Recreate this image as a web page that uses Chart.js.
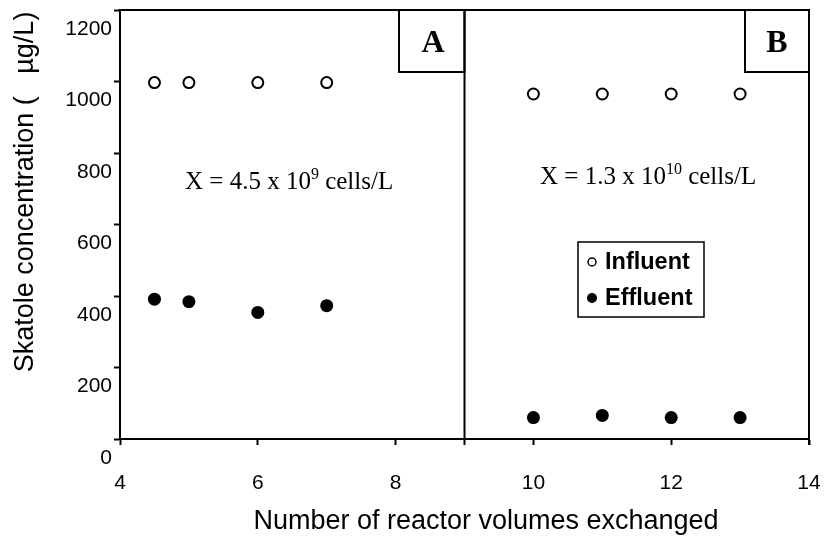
<!DOCTYPE html>
<html>
<head>
<meta charset="utf-8">
<script src="https://cdn.jsdelivr.net/npm/chart.js@4"></script>
<style>
  html, body { margin: 0; padding: 0; background: #fff; }
  #wrap { width: 825px; height: 537px; }
</style>
</head>
<body>
<div id="wrap"><canvas id="chart" width="825" height="537"></canvas></div>
<script>
// reactor volumes exchanged
const xInfluentA = [4.5, 5, 6, 7];
const xInfluentB = [10, 11, 12, 13];
// skatole concentration, ug/L
const influentA = [997, 997, 997, 997];
const effluentA = [391, 384, 354, 373];
const influentB = [965, 965, 965, 965];
const effluentB = [60, 66, 60, 60];
const yTicks = [0, 200, 400, 600, 800, 1000, 1200];
const xTicks = [4, 6, 8, 10, 12, 14];

const toPoints = (xs, ys) => xs.map((x, i) => ({ x: x, y: ys[i] }));

// boxes, labels and the divider at x = 9
const panelPlugin = {
  id: 'panels',
  afterDraw(chart) {
    const ctx = chart.ctx;
    const a = chart.chartArea;
    const xs = chart.scales.x;
    const mid = xs.getPixelForValue(9);
    ctx.save();
    ctx.strokeStyle = '#000';
    ctx.lineWidth = 2;
    // top + right border
    ctx.beginPath();
    ctx.moveTo(a.left, a.top);
    ctx.lineTo(a.right, a.top);
    ctx.lineTo(a.right, a.bottom + 6);
    ctx.stroke();
    // divider
    ctx.beginPath();
    ctx.moveTo(mid, a.top);
    ctx.lineTo(mid, a.bottom + 6);
    ctx.stroke();
    // A / B boxes
    ctx.strokeRect(399, a.top, mid - 399, 62);
    ctx.strokeRect(745, a.top, a.right - 745, 62);
    ctx.fillStyle = '#000';
    ctx.font = 'bold 32px "Liberation Serif"';
    ctx.textAlign = 'center';
    ctx.textBaseline = 'middle';
    ctx.fillText('A', 433, 44);
    ctx.fillText('B', 777, 44);

    // cell density notes
    const note = (x, y, pre, sup, post) => {
      ctx.textAlign = 'left';
      ctx.textBaseline = 'alphabetic';
      ctx.font = '25px "Liberation Serif"';
      ctx.fillText(pre, x, y);
      let w = ctx.measureText(pre).width;
      ctx.font = '16px "Liberation Serif"';
      ctx.fillText(sup, x + w, y - 10);
      w += ctx.measureText(sup).width;
      ctx.font = '25px "Liberation Serif"';
      ctx.fillText(post, x + w, y);
    };
    note(185, 189, 'X = 4.5 x 10', '9', ' cells/L');
    note(540, 184, 'X = 1.3 x 10', '10', ' cells/L');

    // legend
    ctx.lineWidth = 1.5;
    ctx.strokeRect(578, 242, 126, 75);
    ctx.beginPath();
    ctx.arc(592, 262, 4, 0, Math.PI * 2);
    ctx.fillStyle = '#fff';
    ctx.fill();
    ctx.stroke();
    ctx.beginPath();
    ctx.arc(592, 298, 5, 0, Math.PI * 2);
    ctx.fillStyle = '#000';
    ctx.fill();
    ctx.font = 'bold 23.5px "Liberation Sans"';
    ctx.textAlign = 'left';
    ctx.textBaseline = 'middle';
    ctx.fillText('Influent', 605, 263);
    ctx.fillText('Effluent', 605, 299);

    // axis titles
    ctx.font = '27px "Liberation Sans"';
    ctx.textAlign = 'center';
    ctx.fillText('Number of reactor volumes exchanged', 486, 522);
    ctx.save();
    ctx.translate(26, 192);
    ctx.rotate(-Math.PI / 2);
    ctx.fillText('Skatole concentration (   \u00b5g/L)', 0, 0);
    ctx.restore();
    ctx.restore();
  }
};

new Chart(document.getElementById('chart'), {
  type: 'scatter',
  data: {
    datasets: [
      {
        label: 'Influent',
        data: toPoints(xInfluentA, influentA).concat(toPoints(xInfluentB, influentB)),
        pointStyle: 'circle',
        pointRadius: 5.5,
        pointBorderWidth: 2,
        pointBackgroundColor: '#fff',
        pointBorderColor: '#000'
      },
      {
        label: 'Effluent',
        data: toPoints(xInfluentA, effluentA).concat(toPoints(xInfluentB, effluentB)),
        pointStyle: 'circle',
        pointRadius: 6.5,
        pointBorderWidth: 0,
        pointBackgroundColor: '#000',
        pointBorderColor: '#000'
      }
    ]
  },
  options: {
    responsive: false,
    animation: false,
    layout: { padding: { top: 10, right: 16, left: 0, bottom: 0 } },
    plugins: { legend: { display: false }, tooltip: { enabled: false } },
    scales: {
      x: {
        type: 'linear',
        min: 4,
        max: 14,
        afterFit: (s) => { s.height = 98; s.paddingLeft = 0; s.paddingRight = 0; },
        afterBuildTicks: (s) => { s.ticks = xTicks.map(v => ({ value: v })); },
        border: { display: true, color: '#000', width: 2 },
        grid: { drawOnChartArea: false, drawTicks: true, tickLength: 6, tickColor: '#000', tickWidth: 2 },
        ticks: { color: '#000', font: { family: 'Liberation Sans', size: 21 }, padding: 26, maxRotation: 0,
                 callback: (v) => String(v) }
      },
      y: {
        min: 0,
        max: 1200,
        afterFit: (s) => { s.width = 120; s.paddingTop = 0; s.paddingBottom = 0; },
        afterBuildTicks: (s) => { s.ticks = yTicks.map(v => ({ value: v })); },
        border: { display: true, color: '#000', width: 2 },
        grid: { drawOnChartArea: false, drawTicks: true, tickLength: 6, tickColor: '#000', tickWidth: 2 },
        ticks: { color: '#000', font: { family: 'Liberation Sans', size: 21 }, padding: 2, labelOffset: 19,
                 callback: (v) => String(v) }
      }
    }
  },
  plugins: [panelPlugin]
});
</script>
</body>
</html>
